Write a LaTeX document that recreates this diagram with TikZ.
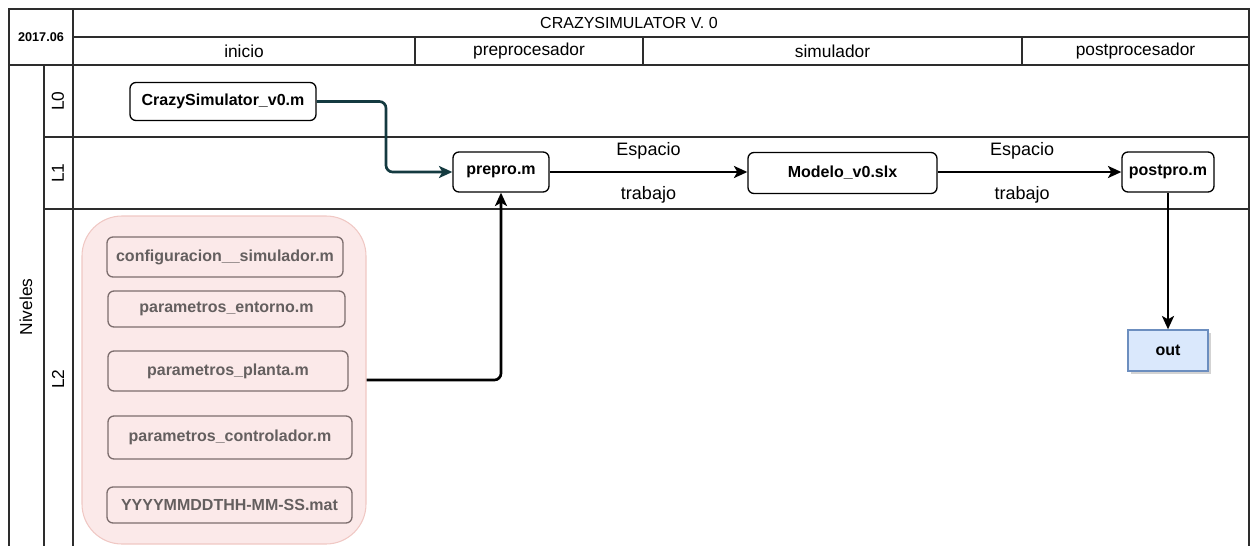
\documentclass[tikz,border=0pt]{standalone}
\usepackage{fontspec}
\setmainfont{Liberation Sans}
\usetikzlibrary{arrows.meta,shadows}
\definecolor{lanecol}{RGB}{45,45,45}
\definecolor{tealline}{RGB}{20,58,64}
\definecolor{pinkfill}{RGB}{251,233,233}
\definecolor{pinkdraw}{RGB}{240,200,196}
\definecolor{filedraw}{RGB}{125,110,110}
\definecolor{filetext}{RGB}{100,95,95}
\definecolor{outfill}{RGB}{218,232,252}
\definecolor{outdraw}{RGB}{108,142,191}
\tikzset{
  lane/.style={draw=lanecol, line width=1.3pt},
  txt/.style={font=\fontsize{13}{15}\selectfont, inner sep=0pt},
  edgetxt/.style={font=\fontsize{13.5}{15}\selectfont, inner sep=0pt},
  procbox/.style={draw=black, line width=1pt, rounded corners=4.5pt, fill=white,
    font=\fontsize{12}{14}\selectfont\bfseries, inner sep=0pt},
  filebox/.style={draw=filedraw, line width=1pt, rounded corners=4.5pt,
    text=filetext, font=\fontsize{12}{14}\selectfont\bfseries, inner sep=0pt},
  flow/.style={draw=black, line width=2pt, rounded corners=5pt,
    -{Stealth[length=10pt,width=9pt,inset=2.5pt]}},
  tealflow/.style={draw=tealline, line width=2pt, rounded corners=5pt,
    -{Stealth[length=10pt,width=9pt,inset=2.5pt]}},
}
\begin{document}
\begin{tikzpicture}[x=0.75pt,y=-0.75pt]
\useasboundingbox (0,0) rectangle (1254,546);

% swimlane grid
\draw[lane] (9,546) -- (9,9) -- (1249,9) -- (1249,546);
\draw[lane] (73,9) -- (73,546);
\draw[lane] (9,65) -- (1249,65);
\draw[lane] (73,37) -- (1249,37);
\draw[lane] (415,37) -- (415,65);
\draw[lane] (643,37) -- (643,65);
\draw[lane] (1022,37) -- (1022,65);
\draw[lane] (44,65) -- (44,546);
\draw[lane] (44,137) -- (1249,137);
\draw[lane] (44,209) -- (1249,209);

% header texts
\node[font=\fontsize{9.5}{11}\selectfont\bfseries] (date) at (41,37) {2017.06};
\node[font=\fontsize{12}{14}\selectfont, inner sep=0pt] (title) at (629,23) {CRAZYSIMULATOR V. 0};
\node[txt] (h1) at (244,51) {inicio};
\node[txt] (h2) at (529,51) {preprocesador};
\node[txt] (h3) at (832.5,51) {simulador};
\node[txt] (h4) at (1135.5,51) {postprocesador};

% lane labels
\node[txt, rotate=90] (niv) at (26,307) {Niveles};
\node[txt, rotate=90] (l0) at (58,101) {L0};
\node[txt, rotate=90] (l1) at (58,173) {L1};
\node[txt, rotate=90] (l2) at (58,379) {L2};

% processing nodes
\node[procbox, minimum width=139.5pt, minimum height=28.5pt] (crazy) at (223,101.5) {CrazySimulator\_v0.m};
\node[procbox, minimum width=72pt, minimum height=30pt] (prepro) at (501,172) {prepro.m};
\node[procbox, minimum width=141.75pt, minimum height=30.75pt] (modelo) at (842.5,173) {Modelo\_v0.slx};
\node[procbox, minimum width=69pt, minimum height=30pt] (postpro) at (1168,172) {postpro.m};
\node[draw=outdraw, fill=outfill, line width=1pt, minimum width=60pt, minimum height=30.75pt,
  font=\fontsize{12}{14}\selectfont\bfseries, inner sep=0pt,
  drop shadow={shadow xshift=2pt, shadow yshift=-2pt, opacity=0.35, fill=gray}] (out) at (1168,350.5) {out};

% configuration file group
\node[draw=pinkdraw, fill=pinkfill, line width=0.8pt, rounded corners=30pt,
  minimum width=213pt, minimum height=246pt] (group) at (224,380) {};
\node[filebox, minimum width=177pt, minimum height=30pt] (cfg) at (225,257) {configuracion\_\_simulador.m};
\node[filebox, minimum width=177.75pt, minimum height=27pt] (ent) at (226.5,309) {parametros\_entorno.m};
\node[filebox, minimum width=180pt, minimum height=30pt] (pla) at (228,371) {parametros\_planta.m};
\node[filebox, minimum width=183pt, minimum height=32.25pt] (ctl) at (230,437.5) {parametros\_controlador.m};
\node[filebox, minimum width=183.75pt, minimum height=27pt] (mat) at (229.5,505) {YYYYMMDDTHH-MM-SS.mat};

% connectors
\draw[tealflow] (crazy.east) -- (386,101.5) -- (386,172) -- (prepro.west);
\draw[flow] (group.east |- 0,380) -- (prepro.south |- 0,380) -- (prepro.south);
\draw[flow] (prepro.east) -- (modelo.west |- prepro.east)
  node[edgetxt, midway, yshift=16pt] (e1) {Espacio}
  node[edgetxt, midway, yshift=-17pt] (t1) {trabajo};
\draw[flow] (modelo.east |- postpro.west) -- (postpro.west)
  node[edgetxt, pos=0.46, yshift=16pt] (e2) {Espacio}
  node[edgetxt, pos=0.46, yshift=-17pt] (t2) {trabajo};
\draw[flow] (postpro.south) -- (out.north);
\end{tikzpicture}
\end{document}
